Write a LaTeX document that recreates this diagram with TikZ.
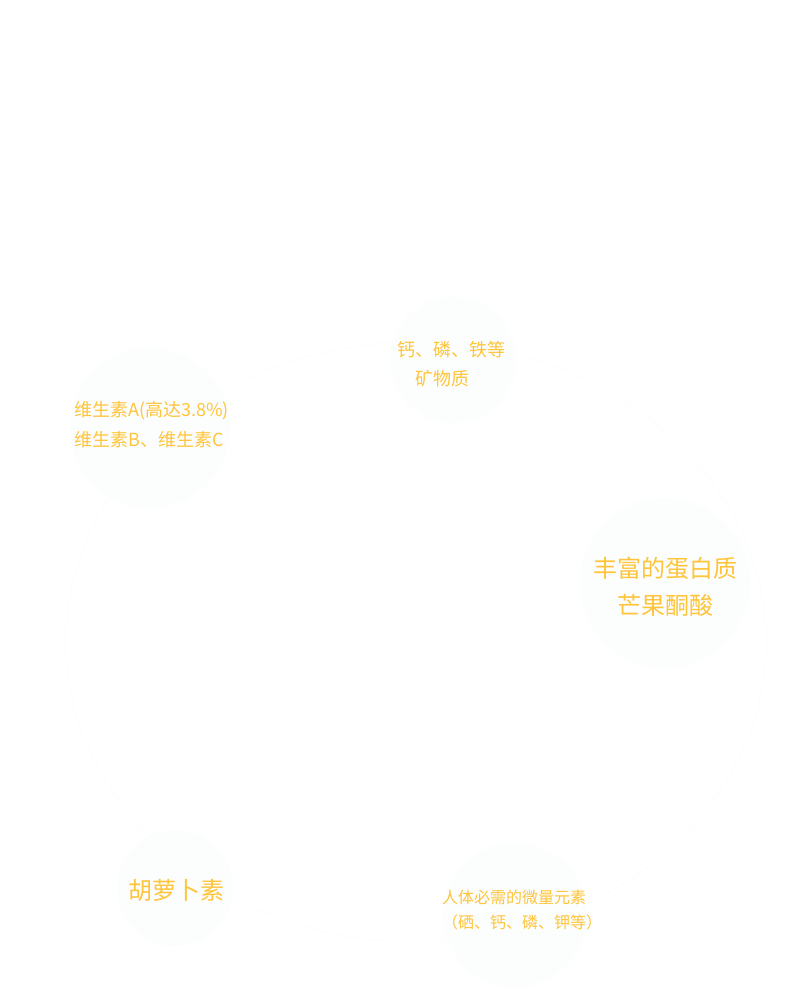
\documentclass[tikz,border=0pt]{standalone}
\usepackage{fontspec}
\usepackage{tikz}
\newfontfamily\cjk{Noto Sans CJK SC}
\definecolor{gold}{HTML}{FFC43A}
\definecolor{mist}{HTML}{FCFEFE}
\definecolor{ring}{HTML}{FCFDFE}

\begin{document}
\begin{tikzpicture}[x=1pt,y=-1pt,
      bubble/.style={
        circle, fill=mist, draw=none,
        inner sep=0pt
      },
      txt/.style={text=gold, inner sep=0pt}
    ]
      \useasboundingbox (0,0) rectangle (790,1000);
      \fill[white] (0,0) rectangle (790,1000);
      \draw[ring, line width=1pt] (416,642) ellipse [x radius=350, y radius=300];
      \foreach \n/\x/\y/\r in {mineral/453/360/63,vitamin/150/428/80,protein/665/583/85,carotene/175/888/58,trace/515/915/72} {
        \node[bubble, minimum size={2*\r pt}] (\n) at (\x,\y){};
      }
      \node[txt, align=left, anchor=west, font=\cjk\fontsize{18}{29}\selectfont] (mineraltxt) at (397,364.5){钙、磷、铁等\\\hspace*{18pt}矿物质};
      \node[txt, align=left, anchor=west, font=\cjk\fontsize{18}{30}\selectfont] (vitamintxt) at (74,425){维生素A(高达3.8\%)\\维生素B、维生素C};
      \node[txt, align=center, font=\cjk\fontsize{24}{37}\selectfont] (proteintxt) at (665,586.5){丰富的蛋白质\\芒果酮酸};
      \node[txt, font=\cjk\fontsize{24}{24}\selectfont] (carotenetxt) at (176,890){胡萝卜素};
      \node[txt, align=left, anchor=west, font=\cjk\fontsize{16}{25}\selectfont] (tracetxt) at (442,910.5){人体必需的微量元素\\（硒、钙、磷、钾等）};
    \end{tikzpicture}
\end{document}
